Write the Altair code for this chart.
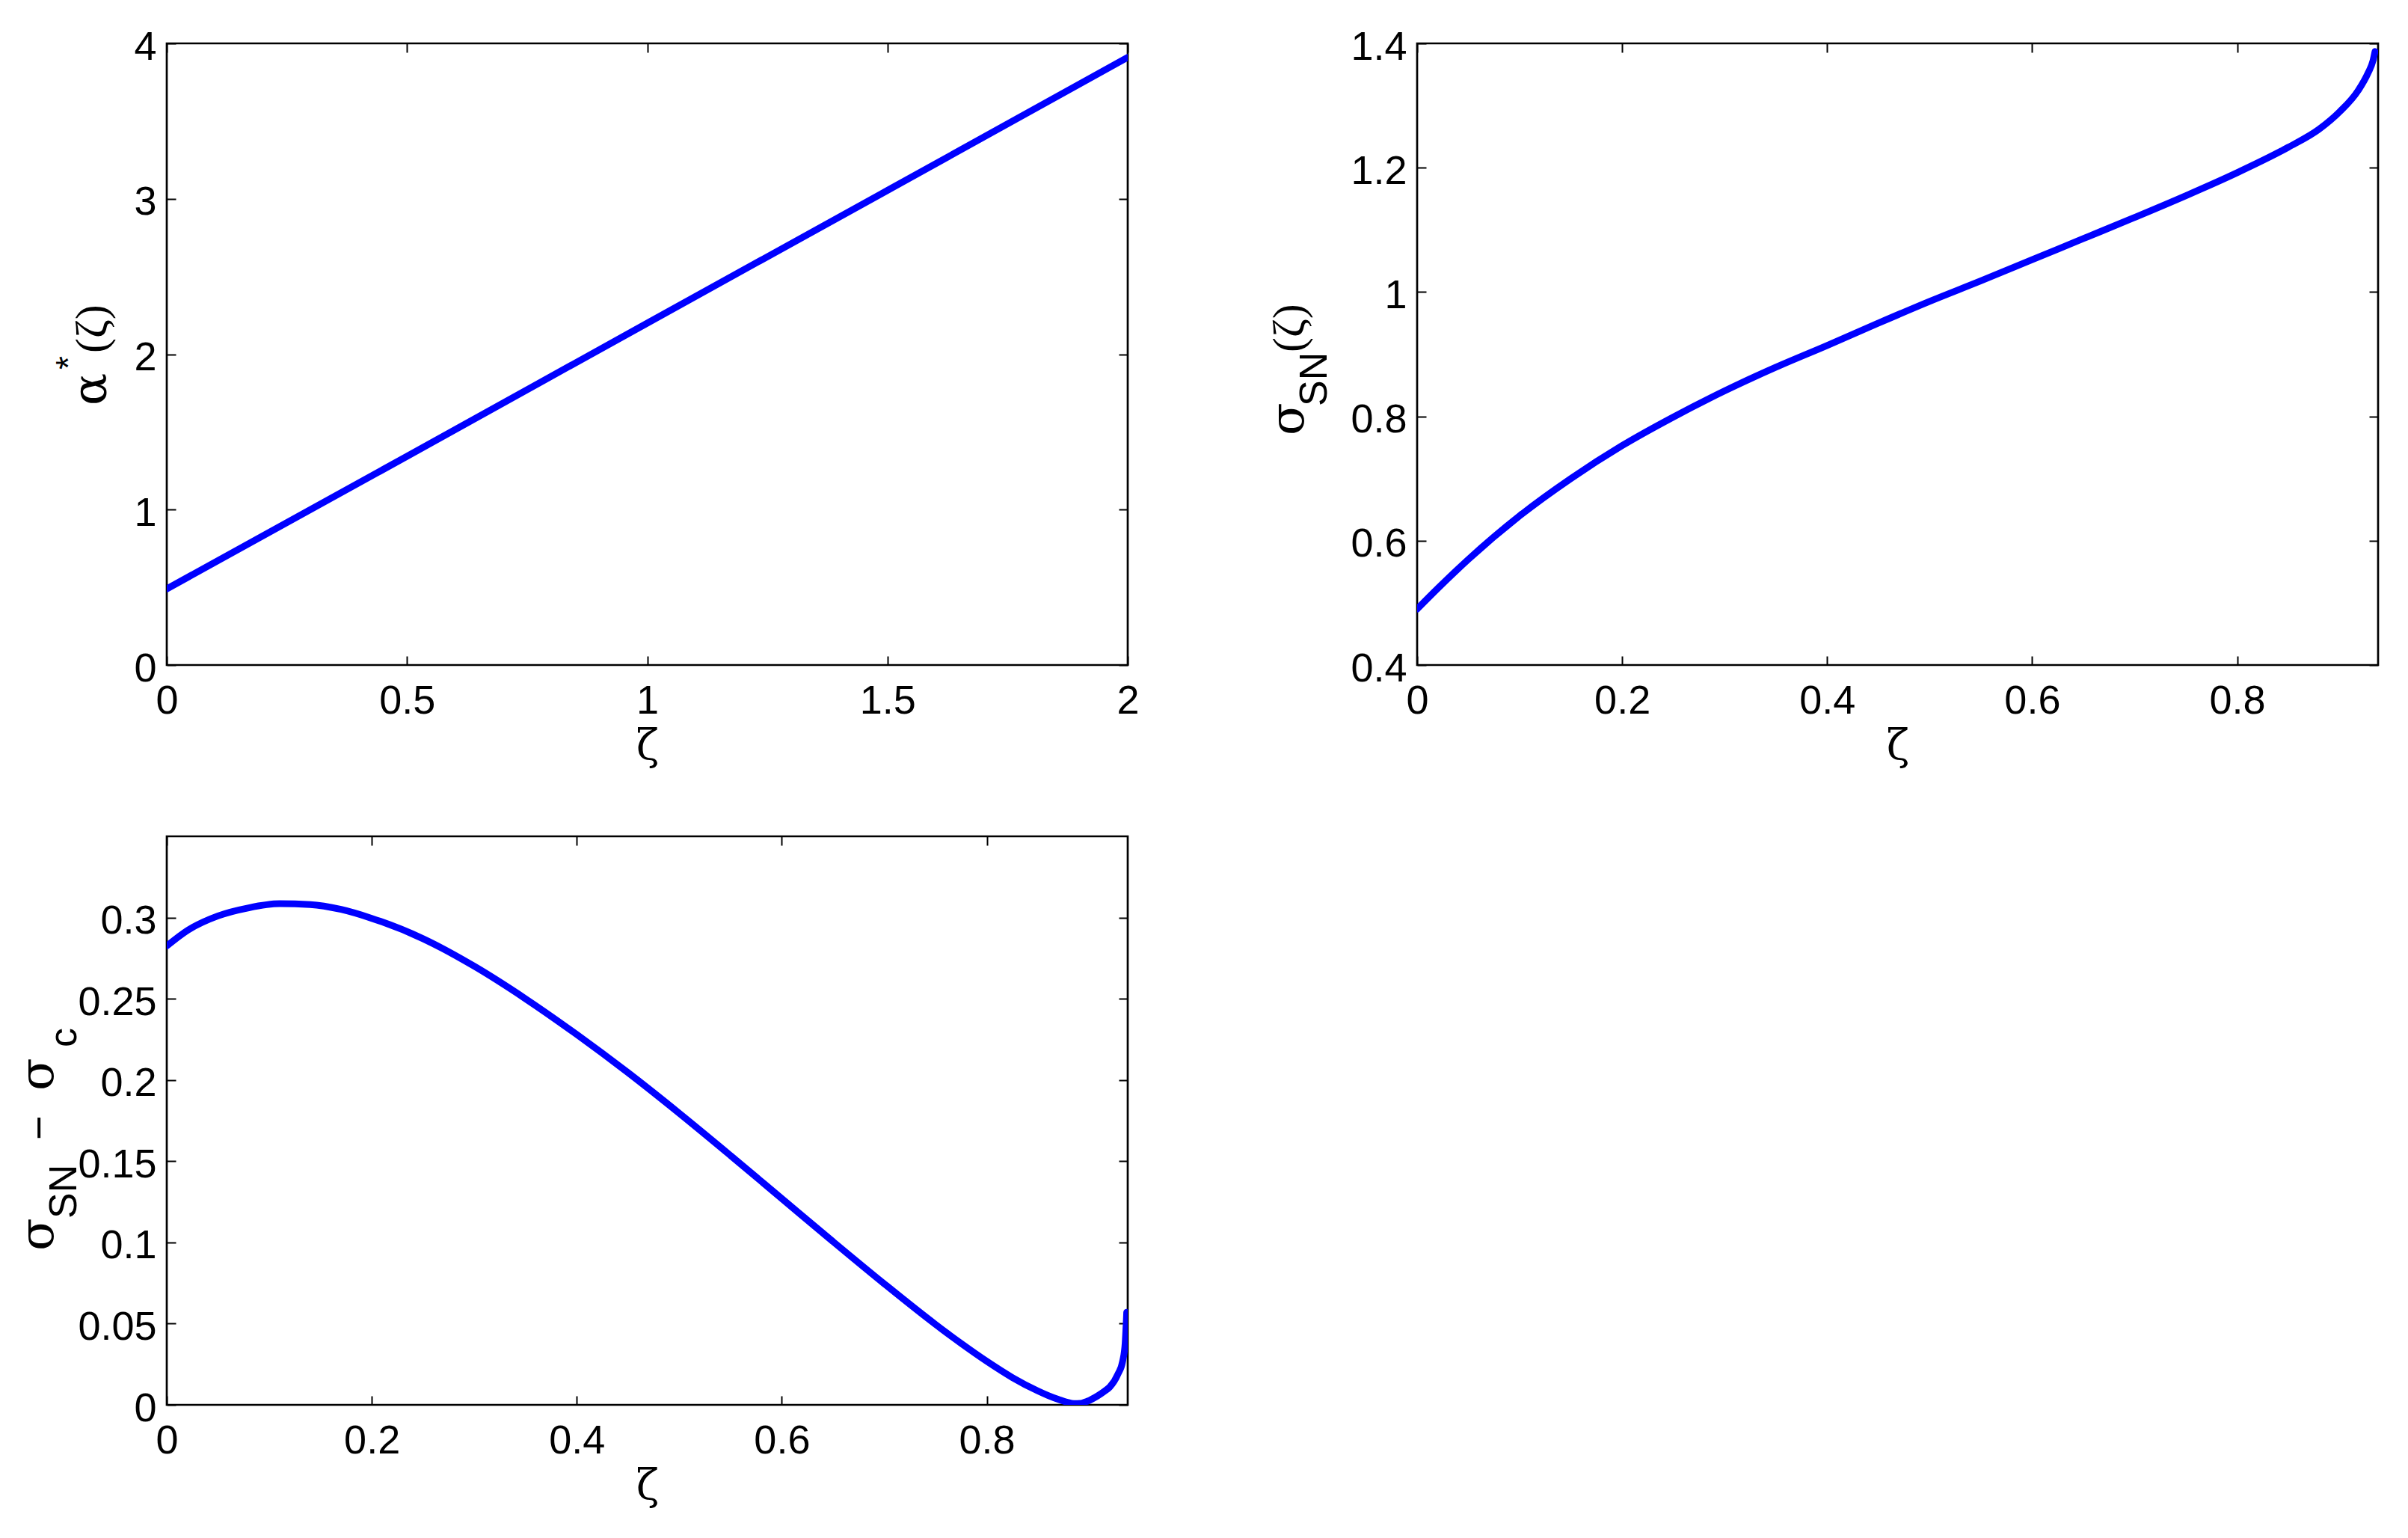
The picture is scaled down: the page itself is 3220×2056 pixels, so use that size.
import altair as alt
import pandas as pd

# ---------------- data ----------------
z1 = [0.0, 0.5, 1.0, 1.5, 2.0]
alpha_star = [0.49, 1.343, 2.200, 3.054, 3.91]

z2 = [0.0, 0.02, 0.05, 0.1, 0.15, 0.2, 0.25, 0.3, 0.35, 0.4, 0.45, 0.5, 0.55,
      0.6, 0.65, 0.7, 0.75, 0.8, 0.85, 0.88, 0.9, 0.918, 0.9276, 0.9325, 0.9345]
sigma_sn = [0.49, 0.523, 0.570, 0.640, 0.700, 0.753, 0.799, 0.841, 0.879, 0.914,
            0.950, 0.985, 1.018, 1.052, 1.086, 1.120, 1.155, 1.192, 1.233, 1.262,
            1.290, 1.324, 1.352, 1.372, 1.387]

z3 = [0.0, 0.02, 0.05, 0.08, 0.11, 0.14, 0.17, 0.2, 0.25, 0.3, 0.35, 0.4, 0.45,
      0.5, 0.55, 0.6, 0.65, 0.7, 0.75, 0.775, 0.8, 0.825, 0.85, 0.86, 0.87,
      0.878, 0.885, 0.891, 0.898, 0.908, 0.915, 0.92, 0.928, 0.9326, 0.935,
      0.936, 0.9365]
sigma_diff = [0.2825, 0.292, 0.301, 0.306, 0.3085, 0.308, 0.305, 0.2995, 0.287,
              0.270, 0.250, 0.228, 0.2045, 0.1795, 0.1535, 0.127, 0.1005, 0.0745,
              0.0495, 0.0378, 0.0268, 0.0168, 0.0085, 0.0057, 0.0033,
              0.0017, 0.0008, 0.0009, 0.0022, 0.0055, 0.0085, 0.011, 0.019,
              0.027, 0.038, 0.050, 0.057]

x1_ticks = [0, 0.5, 1, 1.5, 2]
y1_ticks = [0, 1, 2, 3, 4]
x23_ticks = [0, 0.2, 0.4, 0.6, 0.8]
y2_ticks = [0.4, 0.6, 0.8, 1, 1.2, 1.4]
y3_ticks = [0, 0.05, 0.1, 0.15, 0.2, 0.25, 0.3]

# ---------------- styling ----------------
W = 1285
H_TOP = 831
H_BOT = 760
BLUE = "#0000ff"
TICK = 12
SANS = "Liberation Sans"
SERIF = "Liberation Serif"
GREEK = "DejaVu Serif"
MAIN_FS = 60
GREEK_FS = 64
SUB_FS = 52


def axis_bottom(values):
    return alt.Axis(values=values, format="~g", orient="bottom", offset=-TICK,
                    tickSize=TICK, domain=False, grid=False, labelPadding=21,
                    labelFlush=False,
                    title="ζ", titleBaseline="alphabetic", titlePadding=50)


def axis_left(values):
    return alt.Axis(values=values, format="~g", orient="left", offset=-TICK,
                    tickSize=TICK, domain=False, grid=False, labelPadding=14,
                    labelFlush=False, labelOffset=5, title=None)


def axis_top(values):
    return alt.Axis(values=values, orient="top", offset=-TICK, tickSize=TICK,
                    domain=False, grid=False, labels=False, title=None)


def axis_right(values):
    return alt.Axis(values=values, orient="right", offset=-TICK, tickSize=TICK,
                    domain=False, grid=False, labels=False, title=None)


def piece(text, x, y, size, font):
    return alt.Chart(alt.Data(values=[{"t": text}])).mark_text(
        angle=270, align="left", baseline="alphabetic", font=font,
        fontSize=size, color="black"
    ).encode(text="t:N", x=alt.value(x), y=alt.value(y))


def panel(z, v, xdom, ydom, xt, yt, height, pieces, interp):
    df = pd.DataFrame({"z": z, "v": v})
    xs = alt.Scale(domain=xdom, nice=False, zero=False)
    ys = alt.Scale(domain=ydom, nice=False, zero=False)
    main = alt.Chart(df).mark_line(color=BLUE, strokeWidth=9, clip=True,
                                   strokeCap="round", strokeJoin="round",
                                   interpolate=interp).encode(
        x=alt.X("z:Q", scale=xs, axis=axis_bottom(xt)),
        y=alt.Y("v:Q", scale=ys, axis=axis_left(yt)),
    )
    dup = alt.Chart(df).mark_line(opacity=0).encode(
        x=alt.X("z:Q", scale=xs, axis=axis_top(xt)),
        y=alt.Y("v:Q", scale=ys, axis=axis_right(yt)),
    )
    return alt.layer(main, dup, *pieces).resolve_scale(
        x="independent", y="independent"
    ).properties(width=W, height=height)


# y-axis titles built from pieces (sub/superscripts)
p1_title = [
    piece("α", -81, 484, GREEK_FS, GREEK),
    piece("*", -116, 436, 46, SANS),
    piece("(ζ)", -81, 414, MAIN_FS, SERIF),
]
p2_title = [
    piece("σ", -152, 524, GREEK_FS, GREEK),
    piece("SN", -121, 485, SUB_FS, SANS),
    piece("(ζ)", -152, 413, MAIN_FS, SERIF),
]
p3_title = [
    piece("σ", -152, 554, GREEK_FS, GREEK),
    piece("SN", -121, 511, SUB_FS, SANS),
    piece("−", -152, 406, 56, SANS),
    piece("σ", -152, 340, GREEK_FS, GREEK),
    piece("c", -121, 282, SUB_FS, SANS),
]

p1 = panel(z1, alpha_star, [0, 2], [0, 4], x1_ticks, y1_ticks, H_TOP, p1_title, "linear")
p2 = panel(z2, sigma_sn, [0, 0.9375], [0.4, 1.4], x23_ticks, y2_ticks, H_TOP, p2_title, "monotone")
p3 = panel(z3, sigma_diff, [0, 0.9375], [0, 0.35], x23_ticks, y3_ticks, H_BOT, p3_title, "monotone")

chart = alt.concat(p1, p2, p3, columns=2).properties(
    spacing=alt.RowColnumber(row=229, column=387),
    bounds="flush",
    padding={"left": 10, "top": 26, "right": 5, "bottom": 5},
    background="white",
).configure_view(
    stroke="black", strokeWidth=2.7
).configure_axis(
    labelFont=SANS, labelFontSize=54, labelColor="black",
    tickColor="black", tickWidth=2,
    titleFont=GREEK, titleFontSize=56, titleFontWeight="normal",
    titleColor="black",
)

chart.save("out.html", embed_options={"renderer": "svg", "actions": False})
